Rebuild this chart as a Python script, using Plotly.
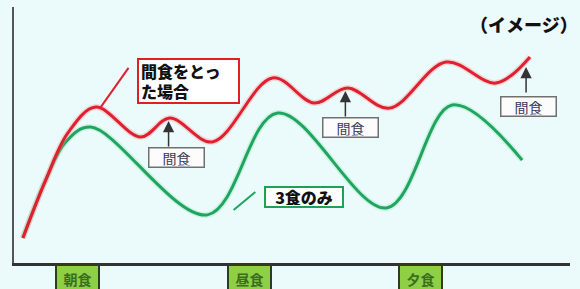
import plotly.graph_objects as go

# --- data (arbitrary units: time 0-100, blood-sugar level 0-100) ---
red_x = [1.6, 5.7, 9.7, 14.7, 22.8, 28.0, 35.7, 46.5, 54.0, 60.0, 67.5, 77.7, 86.7, 92.8]
red_y = [9.8, 32.4, 50.8, 60.9, 49.2, 56.6, 47.3, 72.3, 62.5, 68.4, 60.5, 78.5, 70.3, 80.5]

green_x = [1.6, 5.7, 9.3, 13.8, 34.8, 47.4, 67.0, 78.8, 91.4]
green_y = [9.8, 32.4, 47.3, 53.1, 18.8, 58.6, 21.5, 61.7, 40.2]

meals = ["朝食", "昼食", "夕食"]
meal_x = [11.5, 42.4, 73.1]

snack_label = "間食"
snack_tip_x = [27.8, 59.6, 92.1]
snack_tip_y = [55.5, 67.2, 76.6]
snack_box_x = [29.3, 60.5, 92.5]
snack_box_y = [41.4, 53.1, 61.3]

red_label = "間食をとっ<br>た場合"
green_label = "3食のみ"
image_label = "（イメージ）"

FONT = "Noto Sans CJK JP"
BG = "#ebfbfb"

fig = go.Figure()

# soft glow under lines
fig.add_trace(go.Scatter(x=green_x, y=green_y, mode="lines",
                         line=dict(color="rgba(120,215,160,0.25)", width=6, shape="spline", smoothing=1.0),
                         hoverinfo="skip", showlegend=False))
fig.add_trace(go.Scatter(x=green_x, y=green_y, mode="lines",
                         line=dict(color="#1fa560", width=3, shape="spline", smoothing=1.0),
                         showlegend=False))
fig.add_trace(go.Scatter(x=red_x, y=red_y, mode="lines",
                         line=dict(color="rgba(245,140,140,0.3)", width=6, shape="spline", smoothing=1.0),
                         hoverinfo="skip", showlegend=False))
fig.add_trace(go.Scatter(x=red_x, y=red_y, mode="lines",
                         line=dict(color="#e02030", width=3, shape="spline", smoothing=1.0),
                         showlegend=False))

annotations = []

# red label box
annotations.append(dict(x=31.3, y=71.1, xref="x", yref="y", text=red_label,
                        showarrow=False, align="left",
                        font=dict(family=FONT, size=16, color="#111", weight=900),
                        bgcolor="white", bordercolor="#e02020", borderwidth=2, borderpad=2,
                        width=95, height=38))
# green label box
annotations.append(dict(x=52.1, y=25.8, xref="x", yref="y", text=green_label,
                        showarrow=False, font=dict(family=FONT, size=16, color="#111", weight=900),
                        bgcolor="white", bordercolor="#20a050", borderwidth=2, borderpad=1,
                        width=74, height=16))
# image label
annotations.append(dict(x=0.917, y=0.934, xref="paper", yref="paper", xanchor="center", yanchor="middle",
                        text=image_label, showarrow=False,
                        font=dict(family=FONT, size=18, color="#111", weight=900)))

# snack arrows and boxes
for tx, ty, bx, by in zip(snack_tip_x, snack_tip_y, snack_box_x, snack_box_y):
    annotations.append(dict(x=tx, y=ty, xref="x", yref="y", text="", showarrow=True,
                            ax=0, ay=27, arrowhead=2, arrowsize=1.5, arrowwidth=1.5,
                            arrowcolor="#333"))
    annotations.append(dict(x=bx, y=by, xref="x", yref="y", text=snack_label, showarrow=False,
                            font=dict(family=FONT, size=14, color="#3a3a5a"),
                            bgcolor="#fcfcfc", bordercolor="#707070", borderwidth=1.5, borderpad=1,
                            width=52, height=16))

# meal boxes
for m, mx in zip(meals, meal_x):
    annotations.append(dict(x=mx, y=-0.062, xref="x", yref="paper", yanchor="middle",
                            text="<b>" + m + "</b>", showarrow=False,
                            font=dict(family=FONT, size=14, color="#3a6e22"),
                            bgcolor="#8fcf45", bordercolor="#2f3a1f", borderwidth=2, borderpad=0,
                            width=41, height=26))

shapes = [
    dict(type="line", xref="x", yref="y", x0=15.6, y0=60.9, x1=20.6, y1=76.2,
         line=dict(color="#e02030", width=2)),
    dict(type="line", xref="x", yref="y", x0=39.5, y0=20.7, x1=43.4, y1=27.7,
         line=dict(color="#1fa560", width=2)),
]

fig.update_layout(
    width=580, height=289,
    margin=dict(l=14, r=10, t=7, b=26),
    paper_bgcolor=BG, plot_bgcolor=BG,
    annotations=annotations, shapes=shapes,
    xaxis=dict(range=[0, 100], showgrid=False, zeroline=False, showticklabels=False,
               ticks="", showline=True, linecolor="#333", linewidth=3, fixedrange=True),
    yaxis=dict(range=[0, 100], showgrid=False, zeroline=False, showticklabels=False,
               ticks="", showline=True, linecolor="#555", linewidth=2, fixedrange=True),
)

fig.write_html(
    "out.html",
    config={"displayModeBar": False},
    post_script="document.body.style.margin='0';document.body.style.overflow='hidden';"
                "document.body.style.background='" + BG + "';",
)
